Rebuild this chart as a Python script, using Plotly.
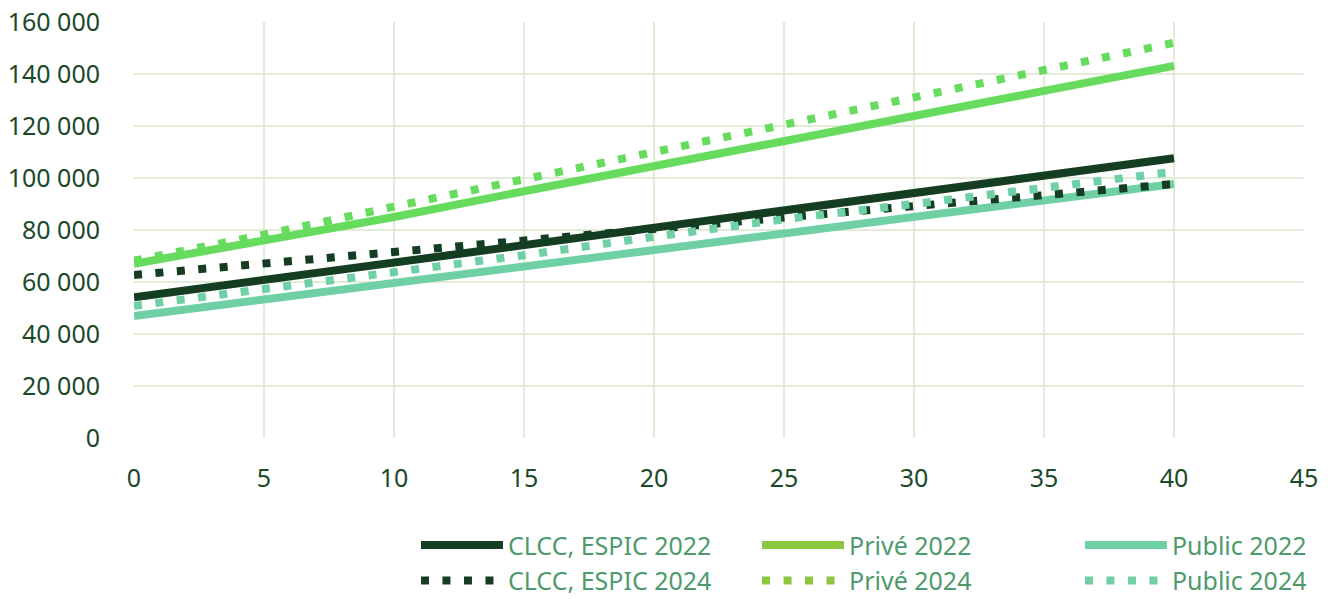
import plotly.graph_objects as go

# years of seniority
years = [0, 5, 10, 15, 20, 25, 30, 35, 40]

# annual salary by sector (euros)
clcc_2022 = [54100, 60800, 67400, 74200, 80900, 87600, 94300, 101000, 107600]
prive_2022 = [67000, 75900, 85000, 94900, 104700, 114500, 124200, 133500, 143100]
public_2022 = [46900, 53200, 59500, 65900, 72300, 78700, 84900, 91300, 97700]
clcc_2024 = [62700, 67200, 71700, 76200, 80800, 85000, 89200, 93400, 97700]
prive_2024 = [68200, 78200, 89000, 99500, 110300, 120600, 131000, 141300, 152000]
public_2024 = [50800, 57200, 64000, 70300, 77400, 84100, 90000, 96100, 102400]

names = ["CLCC, ESPIC 2022", "Privé 2022", "Public 2022",
         "CLCC, ESPIC 2024", "Privé 2024", "Public 2024"]
series = [clcc_2022, prive_2022, public_2022, clcc_2024, prive_2024, public_2024]

DARK = "#143d22"
PRIVE = "#66db5e"
PRIVE_LEG = "#8dc63f"
PUBLIC = "#6fcfa5"
line_colors = [DARK, PRIVE, PUBLIC, DARK, PRIVE, PUBLIC]
legend_colors = [DARK, PRIVE_LEG, PUBLIC, DARK, PRIVE_LEG, PUBLIC]
DOTS = "8px,13.5px"

fig = go.Figure()

for i, (name, vals) in enumerate(zip(names, series)):
    dash = "solid" if i < 3 else DOTS
    fig.add_trace(go.Scatter(
        x=years, y=vals, mode="lines", name=name, showlegend=False,
        line=dict(color=line_colors[i], width=8, dash=dash),
    ))

# legend entries, one legend box per column (Excel shows Privé in another green)
legend_ids = ["legend", "legend2", "legend3"]
for i, name in enumerate(names):
    dash = "solid" if i < 3 else DOTS
    fig.add_trace(go.Scatter(
        x=[None], y=[None], mode="lines", name=name,
        legend=legend_ids[i % 3],
        line=dict(color=legend_colors[i], width=8, dash=dash),
    ))

grid = "#e3ecd6"
tickfont = dict(family="Noto Sans", size=25, color="#1b4a2b")
legfont = dict(family="Noto Sans", size=25, color="#4e9a6e")


def leg(x):
    # y in container coords so the legend does not push the bottom margin
    return dict(orientation="v", x=x, y=0.13, xanchor="left", yanchor="top",
                yref="container", font=legfont, itemwidth=82,
                bgcolor="rgba(0,0,0,0)")


# page body has an 8px margin, so the figure is sized to end at the window edge
fig.update_layout(
    width=1323, height=591,
    margin=dict(l=126, r=27, t=14, b=161),
    plot_bgcolor="white", paper_bgcolor="white",
    separators=", ",
    xaxis=dict(range=[0, 45], dtick=5, showgrid=True, gridcolor=grid, gridwidth=1.5,
               zeroline=False, showline=False, ticks="outside", ticklen=18,
               tickcolor="rgba(0,0,0,0)", tickfont=tickfont, automargin=False,
               ticklabeloverflow="allow"),
    yaxis=dict(range=[0, 160000], dtick=20000, tickformat=",d", showgrid=True,
               gridcolor=grid, gridwidth=1.5, zeroline=False, showline=False,
               ticks="outside", ticklen=28, tickcolor="rgba(0,0,0,0)",
               tickfont=tickfont, automargin=False, ticklabeloverflow="allow"),
    legend=leg(0.2410),
    legend2=leg(0.5325),
    legend3=leg(0.8085),
)

fig.write_html("out.html")
